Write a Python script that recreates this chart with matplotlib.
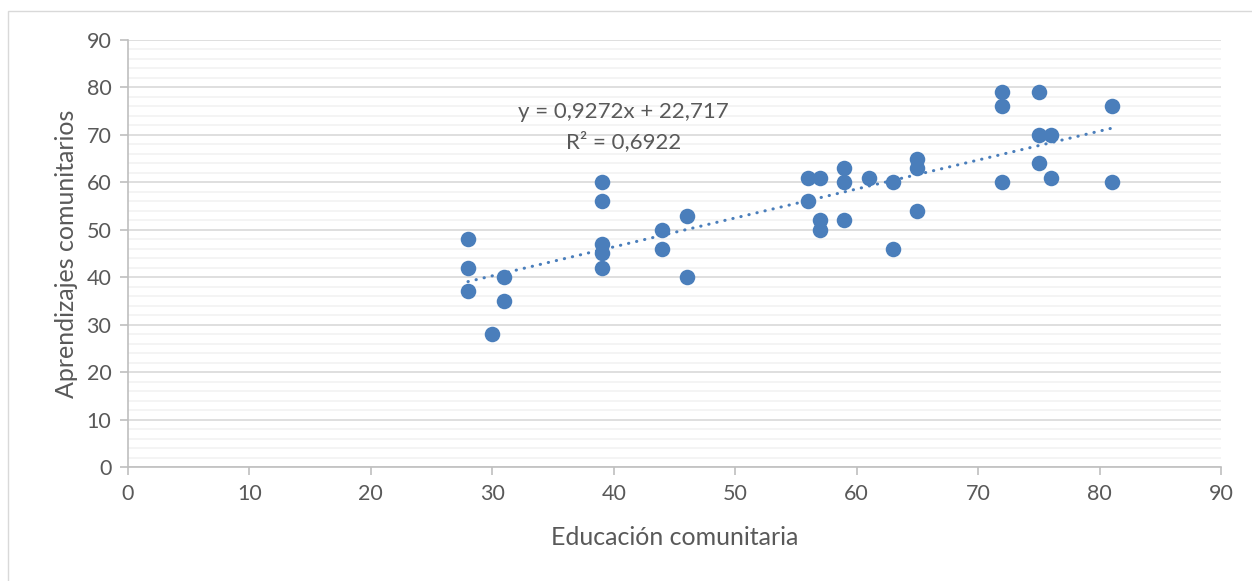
import numpy as np
import matplotlib.pyplot as plt
from matplotlib.patches import Rectangle
from matplotlib.ticker import MultipleLocator

plt.rcParams['font.family'] = ['Lato', 'DejaVu Sans']

# Educación comunitaria (x) vs Aprendizajes comunitarios (y)
educacion = [28, 28, 28, 30, 31, 31, 39, 39, 39, 39, 39, 44, 44, 46, 46,
             56, 56, 57, 57, 57, 59, 59, 59, 61, 63, 63, 65, 65, 65,
             72, 72, 72, 75, 75, 75, 76, 76, 81, 81]
aprendizajes = [48, 42, 37, 28, 40, 35, 60, 56, 47, 45, 42, 50, 46, 53, 40,
                61, 56, 61, 52, 50, 63, 60, 52, 61, 60, 46, 65, 63, 54,
                79, 76, 60, 79, 70, 64, 70, 61, 76, 60]
eq_text = "y = 0,9272x + 22,717"
r2_text = "R² = 0,6922"

blue = '#4A7EBB'
gray_txt = '#595959'

fig = plt.figure(figsize=(12.52, 5.81), dpi=100)
ax = fig.add_axes([0.1022, 0.1962, 0.873, 0.735])

# chart border (only top/left edges visible in the picture)
fig.patches.append(Rectangle((8 / 1252, -0.1), 1.2, 1 - 11 / 581 + 0.1,
                             transform=fig.transFigure, fill=False,
                             edgecolor='#D9D9D9', linewidth=1))

x = np.array(educacion)
y = np.array(aprendizajes)
ax.scatter(x, y, s=125, color=blue, zorder=3, linewidths=0)

m, b = np.polyfit(x, y, 1)
xs = np.array([x.min(), x.max()])
ax.plot(xs, m * xs + b, color=blue, linewidth=2.2,
        linestyle=(0, (0.1, 2.6)), dash_capstyle='round', zorder=2)

ax.text(40.8, 74.8, eq_text, ha='center', va='center', fontsize=16, color=gray_txt)
ax.text(40.8, 68.6, r2_text, ha='center', va='center', fontsize=16, color=gray_txt)

ax.set_xlim(0, 90)
ax.set_ylim(0, 90)
ax.xaxis.set_major_locator(MultipleLocator(10))
ax.yaxis.set_major_locator(MultipleLocator(10))
ax.yaxis.set_minor_locator(MultipleLocator(2))

ax.grid(axis='y', which='major', color='#D9D9D9', linewidth=1.2, zorder=0)
ax.grid(axis='y', which='minor', color='#F2F2F2', linewidth=1.2, zorder=0)
ax.set_axisbelow(True)

for s in ['top', 'right']:
    ax.spines[s].set_visible(False)
for s in ['left', 'bottom']:
    ax.spines[s].set_color('#BFBFBF')
    ax.spines[s].set_linewidth(1.2)

ax.tick_params(which='major', direction='out', length=6, width=1.2,
               color='#BFBFBF', labelsize=15.5, labelcolor=gray_txt, pad=6)
ax.tick_params(which='minor', length=0)

ax.set_xlabel('Educación comunitaria', fontsize=18, color=gray_txt, labelpad=16)
ax.set_ylabel('Aprendizajes comunitarios', fontsize=18, color=gray_txt, labelpad=6)

fig.savefig('out.png', dpi=100)
